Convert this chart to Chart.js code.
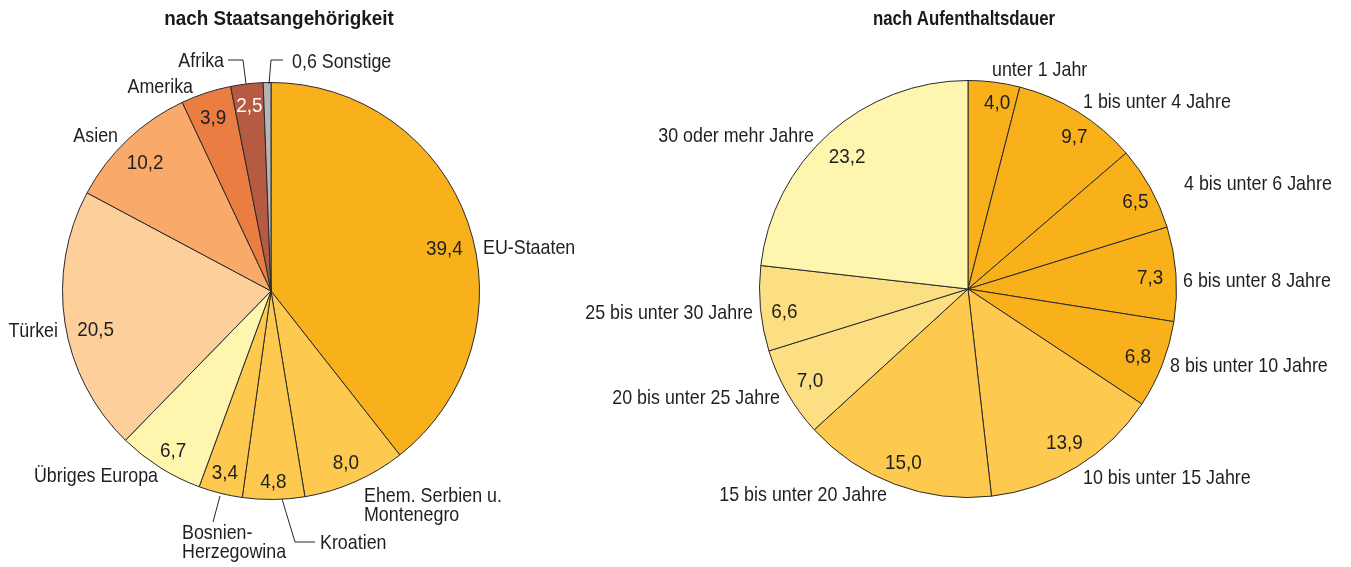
<!DOCTYPE html>
<html><head><meta charset="utf-8">
<script src="https://cdn.jsdelivr.net/npm/chart.js@4.4.1/dist/chart.umd.min.js"></script>
<style>
html,body{margin:0;padding:0;background:#fff;}
#wrap{position:relative;width:1351px;height:567px;overflow:hidden;background:#fff;}
canvas{position:absolute;left:0;top:0;}
</style></head><body>
<div id="wrap"><canvas id="c1" width="1351" height="567"></canvas><canvas id="c2" width="1351" height="567"></canvas></div>
<script>
// ---------- data ----------
const nationTitle = 'nach Staatsangehörigkeit';
const nationCategories = ['EU-Staaten', ['Ehem. Serbien u.', 'Montenegro'], 'Kroatien', ['Bosnien-', 'Herzegowina'], 'Übriges Europa', 'Türkei', 'Asien', 'Amerika', 'Afrika', 'Sonstige'];
const nationValues = [39.4, 8.0, 4.8, 3.4, 6.7, 20.5, 10.2, 3.9, 2.5, 0.6];
const nationColors = ['#F9B11B', '#FDC94E', '#FDC94E', '#FDC94E', '#FEF5AE', '#FDCF9B', '#F9AA6A', '#E97D42', '#B65A41', '#B5B5B5'];

const durationTitle = 'nach Aufenthaltsdauer';
const durationCategories = ['unter 1 Jahr', '1 bis unter 4 Jahre', '4 bis unter 6 Jahre', '6 bis unter 8 Jahre', '8 bis unter 10 Jahre', '10 bis unter 15 Jahre', '15 bis unter 20 Jahre', '20 bis unter 25 Jahre', '25 bis unter 30 Jahre', '30 oder mehr Jahre'];
const durationValues = [4.0, 9.7, 6.5, 7.3, 6.8, 13.9, 15.0, 7.0, 6.6, 23.2];
const durationColors = ['#F9B11B', '#F9B11B', '#F9B11B', '#F9B11B', '#F9B11B', '#FDC94E', '#FDC94E', '#FDDF83', '#FDDF83', '#FEF5AE'];

// ---------- label layout (offsets from pie centre) ----------
const nationOuter = [
  {dx: 212, dy: -44.5, align: 'left'},
  {dx: 93, dy: 203.5, align: 'left'},
  {dx: 49, dy: 250.5, align: 'left'},
  {dx: -89, dy: 240.5, align: 'left'},
  {dx: -113, dy: 183.5, align: 'right'},
  {dx: -213, dy: 38, align: 'right'},
  {dx: -153, dy: -157, align: 'right'},
  {dx: -78, dy: -206, align: 'right'},
  {dx: -47, dy: -231.5, align: 'right'},
  {dx: 21, dy: -231, align: 'left', withValue: true}
];
const nationLeaders = [
  [[-2, -207], [0, -231], [12, -231]],
  [[-25, -207], [-28, -231], [-43, -231]],
  [[11, 208], [24, 251], [44, 251]],
  [[-51, 205], [-58, 231]]
];
const nationValueInside = [true, true, true, true, true, true, true, true, true, false];
const nationValueColor = ['', '', '', '', '', '', '', '', '#ffffff', ''];
const nationValueNudge = [[-2, 17], [0, 1], [0, 4], [-1, 0], [1, 1], [8, 9], [2, 5], [0, 2], [0, -2], [0, 0]];

const durationOuter = [
  {dx: 24, dy: -221, align: 'left'},
  {dx: 115, dy: -189, align: 'left'},
  {dx: 216, dy: -107, align: 'left'},
  {dx: 215, dy: -10, align: 'left'},
  {dx: 202, dy: 75, align: 'left'},
  {dx: 115, dy: 187, align: 'left'},
  {dx: -81, dy: 204, align: 'right'},
  {dx: -188, dy: 107, align: 'right'},
  {dx: -215, dy: 22, align: 'right'},
  {dx: -154, dy: -155, align: 'right'}
];
const durationValueNudge = [[6, -4], [9, 3], [6, 1], [-2, 1], [-2, 0], [0, -5], [0, 0], [2, -1], [0, 4], [2, 4]];

const TEXT_COLOR = '#1f1f1f';
const FONT = '"Liberation Sans", Arial, sans-serif';

function fmt(v) { return v.toFixed(1).replace('.', ','); }

function drawText(ctx, txt, x, cy, align, opt) {
  opt = opt || {};
  const size = opt.size || 21, sx = opt.sx || 0.85;
  ctx.save();
  ctx.font = (opt.bold ? 'bold ' : '') + size + 'px ' + FONT;
  ctx.fillStyle = opt.color || TEXT_COLOR;
  ctx.textAlign = align;
  ctx.textBaseline = 'alphabetic';
  ctx.translate(x, cy + size * 0.358);
  ctx.scale(sx, 1);
  ctx.fillText(txt, 0, 0);
  ctx.restore();
}

function makeLabelPlugin(cfg) {
  return {
    id: 'pieLabels',
    afterDatasetsDraw(chart) {
      const ctx = chart.ctx;
      const meta = chart.getDatasetMeta(0);
      const ds = chart.data.datasets[0];
      const labels = chart.data.labels;
      const cx = meta.data[0].x, cy = meta.data[0].y;
      // title
      drawText(ctx, cfg.title, cx + cfg.titleDx, 18, 'center', {bold: true, size: 20.5, sx: cfg.titleSx, color: '#1a1a1a'});
      // values inside
      meta.data.forEach((arc, i) => {
        if (cfg.valueInside && !cfg.valueInside[i]) return;
        const p = arc.getProps(['startAngle', 'endAngle', 'outerRadius'], true);
        const mid = (p.startAngle + p.endAngle) / 2;
        const r = p.outerRadius * cfg.frac;
        const n = (cfg.nudge && cfg.nudge[i]) || [0, 0];
        const col = (cfg.valueColor && cfg.valueColor[i]) || TEXT_COLOR;
        drawText(ctx, fmt(ds.data[i]), cx + Math.cos(mid) * r + n[0], cy + Math.sin(mid) * r + n[1], 'center', {color: col, sx: 0.9});
      });
      // outer labels
      cfg.outer.forEach((o, i) => {
        let lines = Array.isArray(labels[i]) ? labels[i] : [labels[i]];
        if (o.withValue) lines = [fmt(ds.data[i]) + ' ' + lines[0]];
        lines.forEach((ln, k) => drawText(ctx, ln, cx + o.dx, cy + o.dy + k * 19, o.align));
      });
      // leaders
      ctx.save();
      ctx.strokeStyle = '#262626';
      ctx.lineWidth = 1;
      (cfg.leaders || []).forEach(pts => {
        ctx.beginPath();
        pts.forEach((pt, k) => {
          const x = cx + pt[0], y = cy + pt[1];
          if (k === 0) ctx.moveTo(x, y); else ctx.lineTo(x, y);
        });
        ctx.stroke();
      });
      ctx.restore();
    }
  };
}

function makePie(canvasId, labels, values, colors, padding, plugin) {
  return new Chart(document.getElementById(canvasId), {
    type: 'pie',
    data: {
      labels: labels,
      datasets: [{
        data: values,
        backgroundColor: colors,
        borderColor: '#2a2a2a',
        borderWidth: 1
      }]
    },
    options: {
      responsive: false,
      animation: false,
      layout: {padding: padding},
      plugins: {legend: {display: false}, tooltip: {enabled: false}, title: {display: false}},
    },
    plugins: [plugin]
  });
}

makePie('c1', nationCategories, nationValues, nationColors,
  {left: 62, right: 871, top: 82, bottom: 67},
  makeLabelPlugin({title: nationTitle, titleDx: 8, titleSx: 0.92, outer: nationOuter, leaders: nationLeaders,
    valueInside: nationValueInside, valueColor: nationValueColor, nudge: nationValueNudge, frac: 0.89}));

makePie('c2', durationCategories, durationValues, durationColors,
  {left: 759, right: 174, top: 80, bottom: 69},
  makeLabelPlugin({title: durationTitle, titleDx: -4, titleSx: 0.82, outer: durationOuter, leaders: [],
    nudge: durationValueNudge, frac: 0.885}));
</script>
</body></html>
